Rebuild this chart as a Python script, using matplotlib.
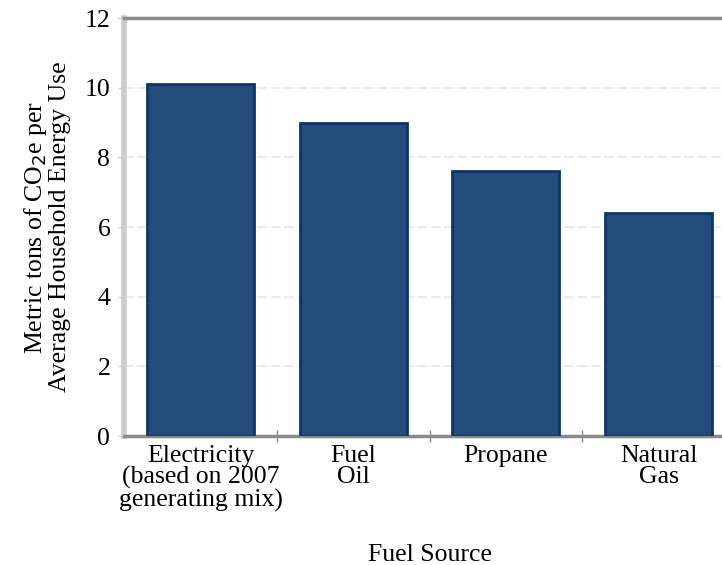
import matplotlib
matplotlib.use("Agg")
import matplotlib.pyplot as plt
import numpy as np

# Household CO2e by fuel source
categories = ["Electricity\n(based on 2007\ngenerating mix)", "Fuel\nOil", "Propane", "Natural\nGas"]
values = [10.1, 9.0, 7.6, 6.4]
yticks = [0, 2, 4, 6, 8, 10, 12]

plt.rcParams['font.family'] = ['Liberation Serif', 'DejaVu Serif']
FS = 18.5

fig = plt.figure(figsize=(7.22, 5.65), dpi=100)
ax = fig.add_axes([0.172, 0.228, 0.846, 0.740])

x = np.arange(len(categories))
ax.bar(x, values, width=0.70, color='#234b7b', edgecolor='#0d3566', linewidth=2, zorder=3)

ax.set_xlim(-0.5, len(categories) - 0.5)
ax.set_ylim(0, 12)
ax.set_yticks(yticks)
ax.set_yticklabels([str(v) for v in yticks], fontsize=FS)
ax.yaxis.grid(True, linestyle=(0, (6, 2)), color='#e6e6e6', linewidth=1.2, zorder=0)

# category labels centred, ticks at the boundaries
ax.set_xticks(x)
ax.set_xticklabels(categories, fontsize=FS, linespacing=0.98)
ax.tick_params(axis='x', length=0, pad=6)
ax.set_xticks(np.arange(0.5, len(categories) - 0.5), minor=True)
ax.tick_params(axis='x', which='minor', length=8, width=1, color='#888888', direction='inout')
ax.tick_params(axis='y', length=4, width=1, color='#cccccc', pad=6)

for side in ['top', 'bottom']:
    ax.spines[side].set_color('#8a8a8a')
    ax.spines[side].set_linewidth(2.5)
ax.spines['left'].set_color('#cccccc')
ax.spines['left'].set_linewidth(4)
ax.spines['right'].set_visible(False)

ax.set_ylabel("Metric tons of CO$_2$e per\nAverage Household Energy Use", fontsize=FS, labelpad=10, linespacing=1.0)
ax.set_xlabel("Fuel Source", fontsize=FS, labelpad=23)

fig.savefig("out.png", dpi=100)
